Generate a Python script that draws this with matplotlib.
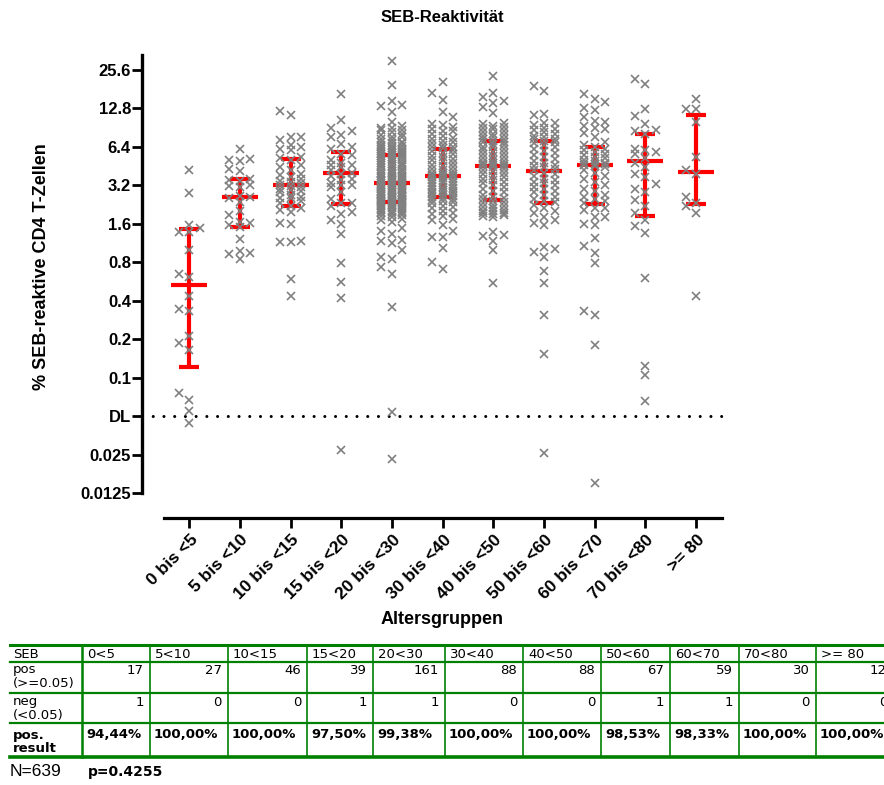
import numpy as np
import matplotlib
matplotlib.use('Agg')
import matplotlib.pyplot as plt
from matplotlib.lines import Line2D
import matplotlib.transforms as mtrans

plt.rcParams['font.family'] = ['Liberation Sans', 'DejaVu Sans']

# ---------------- data ----------------
categories = ['0 bis <5', '5 bis <10', '10 bis <15', '15 bis <20', '20 bis <30',
              '30 bis <40', '40 bis <50', '50 bis <60', '60 bis <70', '70 bis <80', '>= 80']

g0 = [4.19, 2.79, 1.56, 1.38, 1.49, 1.38, 0.99, 0.64, 0.61, 0.435, 0.345, 0.33,
      0.21, 0.185, 0.164, 0.076, 0.067, 0.055, 0.044]
g1 = [6.09, 5.0, 4.93, 5.1, 4.25, 4.14, 3.5, 3.2, 3.6, 3.14, 3.1, 2.6, 2.52, 2.37,
      2.01, 1.86, 1.62, 1.65, 1.51, 1.56, 1.22, 0.94, 0.84, 0.97, 0.92, 3.45, 2.65]
g2 = [12.2, 11.3, 7.55, 6.57, 7.6, 7.2, 6.4, 6.0, 5.26, 6.1, 5.2, 4.19, 3.83, 3.6,
      3.7, 3.46, 3.1, 2.92, 2.52, 2.9, 2.7, 2.6, 2.55, 2.3, 2.11, 1.98, 2.03, 1.62,
      1.6, 1.17, 1.14, 1.15, 0.586, 0.435, 5.0, 4.6, 4.4, 3.9, 3.4, 3.3, 3.2, 3.15,
      3.0, 2.8, 2.4, 2.2]
g3 = [16.4, 10.3, 8.5, 8.9, 7.9, 7.65, 6.7, 6.1, 6.3, 5.65, 5.5, 4.59, 4.59, 4.45,
      4.0, 3.6, 3.2, 3.1, 3.2, 3.3, 2.3, 2.3, 2.19, 1.9, 1.98, 1.70, 1.6, 1.32, 0.78,
      0.56, 0.42, 0.027, 5.0, 4.8, 4.2, 3.9, 3.8, 3.5, 2.8, 2.5]
g4 = [30.0, 19.4, 14.6, 13.5, 13.4, 10.0, 12.0,
      1.70, 1.65, 1.47, 1.40, 1.33, 1.19, 1.12, 1.17, 0.99, 0.85, 0.87, 0.73, 0.64,
      0.353, 0.054, 0.023,
      9.3, 9.0, 8.7, 8.6, 8.3, 8.1, 7.9, 7.6, 7.55, 7.3, 7.2, 6.9, 6.85, 6.8, 6.6, 6.5,
      6.45, 6.3, 6.2, 6.15, 6.1, 6.0, 5.9, 5.88, 5.8, 5.78, 5.7, 5.68, 5.6, 5.58, 5.5,
      5.52, 8.9, 7.0,
      5.4, 5.3, 5.28, 5.2, 5.1, 5.0, 4.98, 4.9, 4.8, 4.78, 4.7, 4.6, 4.5, 4.48, 4.4,
      4.3, 4.28, 4.2, 4.1, 4.0, 3.98, 3.9, 3.88, 3.8, 3.78, 3.7, 3.68, 3.6, 3.58, 3.62,
      3.5, 3.48, 3.52, 3.4, 3.38, 3.42, 3.3, 3.32, 4.62, 4.12, 3.92,
      3.28, 3.2, 3.22, 3.18, 3.1, 3.12, 3.08, 3.0, 3.02, 2.98, 2.9, 2.92, 2.88, 2.94,
      2.8, 2.82, 2.78, 2.7, 2.72, 2.68, 2.74, 2.6, 2.62, 2.58, 2.64, 2.55, 2.5, 2.52,
      2.48, 2.46, 2.45, 2.44, 2.4, 2.42, 2.38, 2.41, 3.15, 2.85, 2.65, 2.36,
      2.35, 2.3, 2.32, 2.28, 2.25, 2.2, 2.22, 2.18, 2.15, 2.1, 2.12, 2.08, 2.05, 2.0,
      2.02, 1.98, 1.95, 1.96, 1.9, 1.92, 1.85, 1.86, 1.8, 1.75]
g5 = [20.5, 16.7, 14.8, 11.9, 10.9, 9.6, 9.5, 1.26, 1.25, 1.03, 0.80, 0.70, 1.70,
      1.41, 1.75, 1.55,
      9.1, 8.8, 8.5, 8.4, 8.0, 7.7, 7.5, 7.3, 7.1, 6.9, 6.8, 6.6, 6.4, 6.3, 6.2,
      6.0, 5.9, 5.7, 5.6, 5.4, 5.3, 5.1, 5.0, 4.9, 4.8, 4.6, 4.5, 4.4, 4.3, 4.2, 4.1,
      4.0, 3.95, 3.9, 3.85, 3.8, 3.82,
      3.7, 3.65, 3.6, 3.5, 3.45, 3.4, 3.3, 3.32, 3.2, 3.15, 3.1, 3.0, 3.02, 2.95, 2.9,
      2.85, 2.8, 2.75, 2.7, 2.72, 2.65, 2.6,
      2.55, 2.5, 2.45, 2.4, 2.35, 2.3, 2.2, 2.15, 2.1, 2.0, 1.95, 1.9, 1.85]
g6 = [22.8, 16.9, 14.1, 14.5, 15.5, 13.1, 11.8, 1.38, 1.29, 1.31, 1.17, 0.99, 0.55,
      9.8, 9.6, 9.3, 9.1, 8.9, 8.8, 8.5, 8.3, 8.1, 7.9, 7.8, 7.6, 7.4, 7.3, 7.1,
      7.0, 6.9, 6.7, 6.6, 6.4, 6.3, 6.1, 6.0, 5.8, 5.7, 5.6, 5.4, 5.3, 5.2, 5.0, 4.9,
      4.88, 4.8, 4.7, 4.65, 4.6, 4.55,
      4.5, 4.4, 4.3, 4.2, 4.1, 4.0, 3.9, 3.8, 3.7, 3.6, 3.5, 3.4, 3.3, 3.2, 3.1, 3.0,
      2.9, 2.8, 2.7, 2.6, 2.55, 2.5,
      2.4, 2.35, 2.3, 2.25, 2.2, 2.15, 2.1, 2.05, 2.0, 2.02, 1.95, 1.9, 1.92, 1.85,
      1.86, 1.8]
g7 = [19.1, 17.4, 11.3, 11.5, 9.8, 9.7, 1.01, 1.05, 0.96, 0.87, 0.68, 0.55, 0.31,
      0.152, 0.0255,
      9.4, 9.0, 8.8, 8.6, 8.3, 8.0, 7.8, 7.6, 7.4, 7.3, 7.1,
      7.0, 6.8, 6.6, 6.3, 6.1, 5.9, 5.7, 5.5, 5.3, 5.1, 4.9, 4.8, 4.6, 4.5, 4.4, 4.3,
      4.2,
      4.0, 3.9, 3.8, 3.6, 3.5, 3.4, 3.3, 3.2, 3.1, 3.0, 2.9, 2.8, 2.7, 2.6, 2.5, 2.4,
      2.35,
      2.25, 2.1, 2.0, 1.95, 1.8, 1.7, 1.62, 1.55]
g8 = [16.4, 15.2, 14.2, 12.4, 12.9, 10.9, 10.0, 10.1, 9.0, 9.3, 8.8,
      2.1, 2.03, 2.12, 1.81, 1.79, 1.6, 1.56, 1.24, 1.07, 0.95, 0.78, 0.31, 0.33,
      0.18, 0.0149,
      8.2, 7.6, 7.0, 6.6,
      6.3, 6.1, 6.0, 5.8, 5.6, 5.5, 5.3, 5.2, 5.0, 4.9, 4.8, 4.75, 4.7, 4.65, 4.6,
      4.5, 4.4, 4.2, 4.0, 3.8, 3.6, 3.4, 3.2, 3.0, 2.9, 2.7, 2.6, 2.5, 2.4, 2.3]
g9 = [21.5, 19.6, 12.6, 11.1, 9.6, 8.6, 8.4, 8.0, 6.0, 5.6, 6.1, 5.8, 5.2, 4.8,
      3.72, 3.24, 2.96, 2.8, 2.44, 2.2, 1.92, 1.70, 1.53, 1.34, 0.60, 0.124, 0.104,
      0.066, 4.4, 3.9]
g10 = [15.0, 12.5, 12.6, 10.0, 5.3, 4.19, 3.9, 2.6, 2.19, 2.3, 1.94, 0.435]
groups = [g0, g1, g2, g3, g4, g5, g6, g7, g8, g9, g10]

medians = [0.53, 2.6, 3.2, 4.0, 3.3, 3.76, 4.53, 4.1, 4.59, 4.93, 4.02]
q1 = [0.121, 1.51, 2.2, 2.26, 2.37, 2.6, 2.44, 2.3, 2.27, 1.83, 2.26]
q3 = [1.45, 3.6, 5.1, 5.8, 5.5, 6.1, 7.06, 7.06, 6.4, 8.0, 11.3]

ytick_vals = [0.0125, 0.025, 0.05, 0.1, 0.2, 0.4, 0.8, 1.6, 3.2, 6.4, 12.8, 25.6]
ytick_labels = ['0.0125', '0.025', 'DL', '0.1', '0.2', '0.4', '0.8', '1.6', '3.2',
                '6.4', '12.8', '25.6']
detection_limit = 0.05

table_cols = ['0<5', '5<10', '10<15', '15<20', '20<30', '30<40', '40<50', '50<60',
              '60<70', '70<80', '>= 80']
pos_counts = [17, 27, 46, 39, 161, 88, 88, 67, 59, 30, 12]
neg_counts = [1, 0, 0, 1, 1, 0, 0, 1, 1, 0, 0]
n_total = 639
p_value = '0.4255'

# ---------------- figure ----------------
W, H = 884, 785
fig = plt.figure(figsize=(W / 100, H / 100), dpi=100)
ax_l, ax_r, ax_t, ax_b = 142, 722, 55, 518
ax = fig.add_axes([ax_l / W, 1 - ax_b / H, (ax_r - ax_l) / W, (ax_b - ax_t) / H])
ax.set_yscale('log', base=2)
ax.set_ylim(0.00797, 33.3)
ax.set_xlim(-0.93, 10.51)

px_per_x = (ax_r - ax_l) / (10.51 + 0.93)
px_per_oct = (ax_b - ax_t) / np.log2(33.3 / 0.00797)


def swarm_offsets(vals, step_px=10.5, dmin_px=8.5):
    vals = np.asarray(vals, float)
    ypx = px_per_oct * np.log2(vals)
    order = np.argsort(ypx)
    cand = [0, -1, 1, -0.5, 0.5, -1.5, 1.5]
    placed = []
    offs = np.zeros(len(vals))
    for i in order:
        y = ypx[i]
        best_c, best_clear = 0, -1
        for c in cand:
            near = [abs(y - py) for (pc, py) in placed if abs(pc - c) * step_px < 8]
            clear = min(near) if near else 1e9
            if clear >= dmin_px:
                best_c = c
                break
            if clear > best_clear:
                best_clear, best_c = clear, c
        placed.append((best_c, y))
        offs[i] = best_c * step_px / px_per_x
    return offs


red = '#FF0000'
cap_w = 10 / px_per_x
med_w = 18 / px_per_x
for i, vals in enumerate(groups):
    ax.vlines(i, q1[i], q3[i], color=red, lw=3.0, zorder=2)
    ax.hlines([q1[i], q3[i]], i - cap_w, i + cap_w, color=red, lw=3.0, zorder=2)
    ax.hlines(medians[i], i - med_w, i + med_w, color=red, lw=3.0, zorder=2)
    offs = swarm_offsets(vals)
    ax.plot(i + offs, vals, linestyle='none', marker='x', ms=6.3, mew=1.2,
            color='#808080', zorder=3)

ax.plot([-0.93, 10.51], [detection_limit, detection_limit], color='black', lw=2.2,
        linestyle=(0, (0.01, 3.5)), dash_capstyle='round', zorder=1, clip_on=False)

for s in ['top', 'right']:
    ax.spines[s].set_visible(False)
ax.spines['left'].set_linewidth(2.4)
ax.spines['bottom'].set_linewidth(2.3)
ax.spines['left'].set_bounds(0.0125, 33.3)
ax.spines['bottom'].set_bounds(-0.49, 10.51)

ax.set_yticks(ytick_vals)
ax.set_yticklabels(ytick_labels)
ax.yaxis.set_minor_locator(matplotlib.ticker.NullLocator())
ax.tick_params(axis='y', length=7, width=2, pad=1, labelsize=12)
ax.set_xticks(range(len(categories)))
ax.set_xticklabels(categories, rotation=45, ha='right', va='center',
                   rotation_mode='anchor')
ax.tick_params(axis='x', length=7, width=2, pad=7, labelsize=12.5)
shift = mtrans.ScaledTranslation(6 / 100, 0, fig.dpi_scale_trans)
for lab in ax.get_xticklabels():
    lab.set_fontweight('bold')
    lab.set_transform(lab.get_transform() + shift)
for lab in ax.get_yticklabels():
    lab.set_fontweight('bold')

fig.text(442 / W, 1 - 18 / H, 'SEB-Reaktivität', ha='center', va='center',
         fontsize=12, fontweight='bold')
fig.text(42 / W, 1 - 267 / H, '% SEB-reaktive CD4 T-Zellen', ha='center',
         va='center', rotation=90, fontsize=13, fontweight='bold')
fig.text(442 / W, 1 - 620 / H, 'Altersgruppen', ha='center', va='center',
         fontsize=13, fontweight='bold')

# ---------------- table ----------------
green = '#008000'
col_x = [10, 82, 150, 228, 307, 373, 445, 523, 601, 670, 739, 816, 893]
row_y = [645, 662, 693, 723, 757]


def fx(x):
    return x / W


def fy(y):
    return 1 - y / H


def hline(y, x0, x1, lw):
    fig.add_artist(Line2D([fx(x0), fx(x1)], [fy(y), fy(y)], color=green, lw=lw,
                          transform=fig.transFigure))


def vline(x, y0, y1, lw):
    fig.add_artist(Line2D([fx(x), fx(x)], [fy(y0), fy(y1)], color=green, lw=lw,
                          transform=fig.transFigure))


hline(row_y[0], col_x[0], col_x[-1], 2.2)
hline(row_y[1], col_x[0], col_x[-1], 1.6)
hline(row_y[2], col_x[0], col_x[-1], 1.6)
hline(row_y[3], col_x[0], col_x[-1], 1.6)
hline(row_y[4], col_x[0], col_x[-1], 2.6)
for j, x in enumerate(col_x[1:-1]):
    vline(x, row_y[0], row_y[-1], 1.8 if j == 0 else 1.2)

tfont = dict(family='DejaVu Sans', fontsize=9.5)
fig.text(fx(col_x[0] + 3), fy(654), 'SEB', ha='left', va='center', **tfont)
fig.text(fx(col_x[0] + 3), fy(670), 'pos', ha='left', va='center', **tfont)
fig.text(fx(col_x[0] + 3), fy(684), '(>=0.05)', ha='left', va='center', **tfont)
fig.text(fx(col_x[0] + 3), fy(702), 'neg', ha='left', va='center', **tfont)
fig.text(fx(col_x[0] + 3), fy(716), '(<0.05)', ha='left', va='center', **tfont)
fig.text(fx(col_x[0] + 3), fy(735), 'pos.', ha='left', va='center',
         fontweight='bold', **tfont)
fig.text(fx(col_x[0] + 3), fy(749), 'result', ha='left', va='center',
         fontweight='bold', **tfont)
for j, name in enumerate(table_cols):
    xl, xr = col_x[j + 1], col_x[j + 2]
    fig.text(fx(xl + 5), fy(654), name, ha='left', va='center', **tfont)
    fig.text(fx(xr - 6), fy(670), str(pos_counts[j]), ha='right', va='center', **tfont)
    fig.text(fx(xr - 6), fy(702), str(neg_counts[j]), ha='right', va='center', **tfont)
    pct = 100.0 * pos_counts[j] / (pos_counts[j] + neg_counts[j])
    fig.text(fx(xl + 4), fy(735), f'{pct:.2f}%'.replace('.', ','), ha='left',
             va='center', family='DejaVu Sans', fontsize=9.5, fontweight='bold')

fig.text(fx(10), fy(772), f'N={n_total}', ha='left', va='center', fontsize=12.5)
fig.text(fx(88), fy(772), f'p={p_value}', ha='left', va='center',
         family='DejaVu Sans', fontsize=10, fontweight='bold')

fig.savefig('out.png', dpi=100)
